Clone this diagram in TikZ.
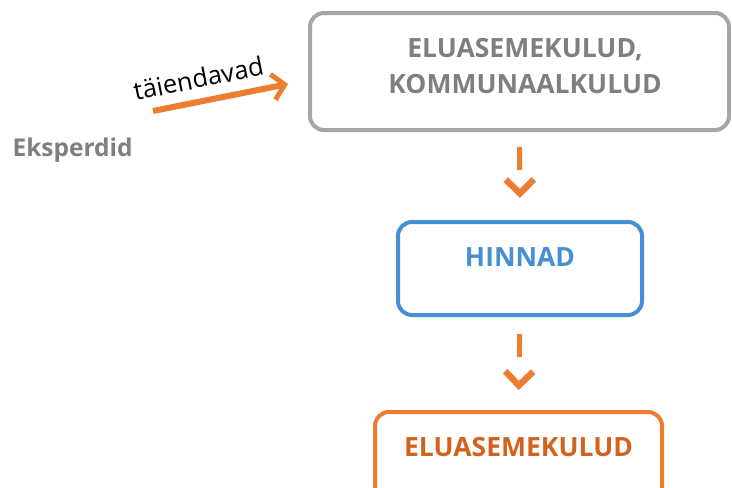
\documentclass[tikz,border=0pt]{standalone}
\usepackage{fontspec}
\setmainfont{Open Sans}
\usetikzlibrary{arrows.meta}
\definecolor{boxgray}{HTML}{A6A6A6}
\definecolor{txtgray}{HTML}{7F7F7F}
\definecolor{boxblue}{HTML}{4590D4}
\definecolor{boxorange}{HTML}{ED7D31}
\definecolor{txtorange}{HTML}{D3621C}

\begin{document}
\begin{tikzpicture}[x=1pt,y=-1pt,
        sketchbox/.style={draw, line width=4pt, rounded corners=14pt},
        boxtext/.style={font=\fontsize{26.5}{36}\selectfont\bfseries, align=center},
        flow/.style={draw=boxorange, line width=5pt, dash pattern=on 23pt off 40pt,
            -{Straight Barb[length=14pt,width=28pt,line width=6.5pt]}}]
            \useasboundingbox (0,0) rectangle (732,488);
            \node[sketchbox, draw=boxgray, minimum width=419pt, minimum height=117pt] (kulud) at (519.5,71.5) {};
            \node[boxtext, text=txtgray] (kuludtxt) at (525,66) {ELUASEMEKULUD,\\KOMMUNAALKULUD};
            \node[sketchbox, draw=boxblue, minimum width=244pt, minimum height=93pt] (hinnad) at (520,268.5) {};
            \node[boxtext, text=boxblue] (hinnadtxt) at (520,257) {HINNAD};
            \node[sketchbox, draw=boxorange, minimum width=287pt, minimum height=90pt] (eluase) at (518.5,457) {};
            \node[boxtext, text=txtorange] (eluasetxt) at (518.5,447) {ELUASEMEKULUD};
            \draw[flow, shorten <=15pt, shorten >=22pt] (kulud.south) -- (hinnad.north);
            \draw[flow, shorten <=17pt, shorten >=20pt] (hinnad.south) -- (eluase.north);
            \node[boxtext, font=\fontsize{24.5}{30}\selectfont\bfseries, text=txtgray, anchor=west] (eksperdid) at (9,150) {Eksperdid};
            \coordinate (tfrom) at (153,111);
            \coordinate (tto) at (288,84);
            \draw[line width=6pt, boxorange, -{Straight Barb[length=12pt,width=26pt,line width=5pt]}] (tfrom) -- (tto)
                node[pos=0.37, sloped, above=7pt, font=\fontsize{25.5}{30}\selectfont, text=black] (taiend) {täiendavad};
        \end{tikzpicture}
\end{document}
